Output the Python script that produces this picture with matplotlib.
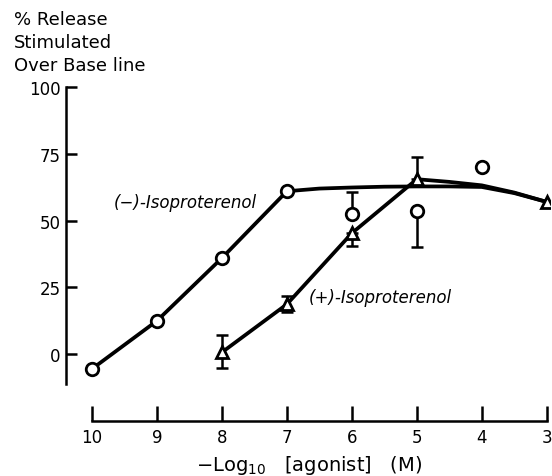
import matplotlib.pyplot as plt

# (-)-Isoproterenol: points joined by straight segments
minus_x = [10, 9, 8, 7]
minus_y = [-5.5, 12.5, 36, 61]
# (-)-Isoproterenol: fitted plateau drawn through the curve
minus_fit_x = [7, 6.5, 6, 5.5, 5, 4.5, 4, 3.5, 3]
minus_fit_y = [61, 62.0, 62.4, 62.7, 62.8, 62.8, 62.6, 60.3, 57]
# (-)-Isoproterenol: scattered points with one-sided error bars
minus_pts_x = [6, 5, 4]
minus_pts_y = [52.4, 53.6, 70]
minus_err_lo = [0, 13.6, 0]
minus_err_hi = [8.3, 0, 0]

# (+)-Isoproterenol
plus_x = [8, 7, 6, 5]
plus_y = [0.7, 18.7, 45.3, 65.5]
plus_err_lo = [5.7, 3.0, 4.9, 0]
plus_err_hi = [6.5, 3.0, 0, 8.5]
plus_fit_x = [5, 4.5, 4, 3.5, 3]
plus_fit_y = [65.5, 64.5, 63.2, 60.5, 57]
plus_end_x = [3]
plus_end_y = [57]

x_ticks = [10, 9, 8, 7, 6, 5, 4, 3]
y_ticks = [0, 25, 50, 75, 100]

plt.rcParams['font.family'] = ['DejaVu Sans']

fig = plt.figure(figsize=(5.52, 4.77), dpi=100)
W, H = 552, 477
left, right, bottom, top = 66, 550, 422, 82.7
ax = fig.add_axes([left / W, 1 - bottom / H, (right - left) / W, (bottom - top) / H])
ax.set_xlim(10.4, 2.95)
ax.set_ylim(-25, 102)

lw = 2.7
mk = dict(markersize=9, markerfacecolor='white', markeredgecolor='black',
          markeredgewidth=2.0, zorder=5)

ax.plot(minus_x, minus_y, color='black', lw=lw, solid_capstyle='round')
ax.plot(minus_fit_x, minus_fit_y, color='black', lw=lw, solid_capstyle='round')
ax.plot(plus_x, plus_y, color='black', lw=lw, solid_capstyle='round')
ax.plot(plus_fit_x, plus_fit_y, color='black', lw=lw, solid_capstyle='round')

ax.errorbar(plus_x, plus_y, yerr=[plus_err_lo, plus_err_hi], fmt='none',
            ecolor='black', elinewidth=1.8, capsize=4, capthick=1.8, zorder=4)
ax.errorbar(minus_pts_x, minus_pts_y, yerr=[minus_err_lo, minus_err_hi], fmt='none',
            ecolor='black', elinewidth=1.8, capsize=4, capthick=1.8, zorder=4)

ax.plot(minus_x, minus_y, 'o', linestyle='none', **mk)
ax.plot(minus_pts_x, minus_pts_y, 'o', linestyle='none', **mk)
ax.plot(plus_x, plus_y, '^', linestyle='none', **mk)
ax.plot(plus_end_x, plus_end_y, '^', linestyle='none', **mk)

for s in ['top', 'right']:
    ax.spines[s].set_visible(False)
ax.spines['left'].set_bounds(-11, 100)
ax.spines['bottom'].set_bounds(10, 3)
ax.spines['left'].set_linewidth(1.8)
ax.spines['bottom'].set_linewidth(1.8)

ax.set_xticks(x_ticks)
ax.set_xticklabels([str(t) for t in x_ticks])
ax.set_yticks(y_ticks)
ax.set_yticklabels([str(t) for t in y_ticks])
ax.tick_params(axis='x', direction='in', length=11, width=1.8, labelsize=12, pad=5)
ax.tick_params(axis='y', direction='in', length=8, width=1.8, labelsize=12, pad=4)

ax.text(8.57, 57, '(\u2212)-Isoproterenol', style='italic', fontsize=12,
        ha='center', va='center')
ax.text(5.57, 21.3, '(+)-Isoproterenol', style='italic', fontsize=12,
        ha='center', va='center')

fig.text(14 / W, 1 - 11 / H, '% Release\nStimulated\nOver Base line', fontsize=13,
         ha='left', va='top', linespacing=1.35)
fig.text(309 / W, 1 - 466 / H, r'$\mathregular{-Log_{10}}$   [agonist]   (M)',
         fontsize=14, ha='center', va='center')

fig.savefig('out.png', dpi=100)
